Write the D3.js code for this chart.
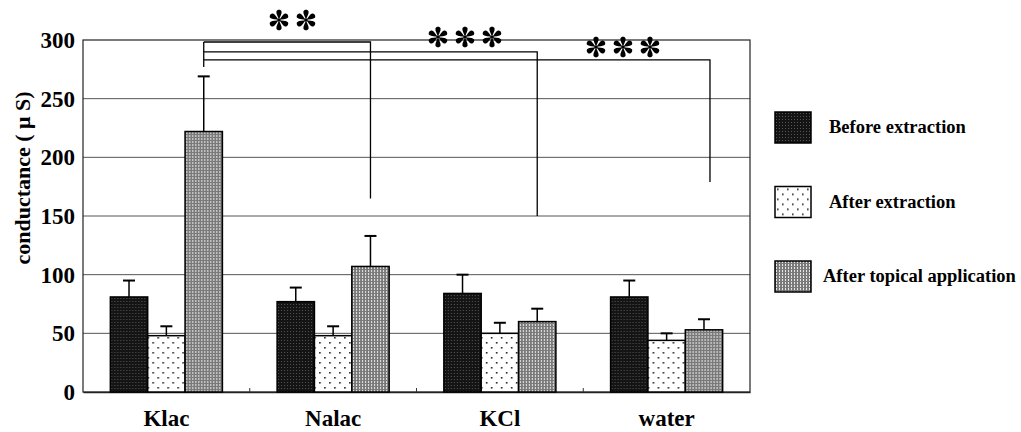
<!DOCTYPE html>
<html>
<head>
<meta charset="utf-8">
<script src="https://cdn.jsdelivr.net/npm/d3@7"></script>
<style>
  body { margin: 0; background: #fff; }
  svg { display: block; }
  text { font-family: "Liberation Serif", "Times New Roman", serif; font-weight: bold; fill: #000; }
</style>
</head>
<body>
<div id="chart"></div>
<script>
// data
var categories = ["Klac", "Nalac", "KCl", "water"];
var seriesNames = ["Before extraction", "After extraction", "After topical application"];
var beforeValues = [81, 77, 84, 81];
var beforeErrors = [14, 12, 16, 14];
var afterValues = [48, 48, 50, 44];
var afterErrors = [8, 8, 9, 6];
var topicalValues = [222, 107, 60, 53];
var topicalErrors = [47, 26, 11, 9];
var yTicks = [0, 50, 100, 150, 200, 250, 300];

// significance brackets: from Klac topical to the topical bar of another group
var bracketTargets = ["Nalac", "KCl", "water"];
var bracketLevels = [298.3, 289.8, 283];
var bracketEnds = [165, 150, 179];
var bracketStartEnd = 277;
var bracketStars = [2, 3, 3];

var width = 1021,
  height = 432,
  margin = { top: 40, right: 271, bottom: 40, left: 83 };

var svg = d3.select("#chart").append("svg")
  .attr("width", width)
  .attr("height", height);

//------------------------------------------------------------
// fill patterns

var defs = svg.append("defs");

var pDark = defs.append("pattern").attr("id", "pDark")
  .attr("patternUnits", "userSpaceOnUse").attr("width", 3).attr("height", 3);
pDark.append("rect").attr("width", 3).attr("height", 3).attr("fill", "#141414");
pDark.append("rect").attr("x", 1).attr("y", 1).attr("width", 1).attr("height", 1).attr("fill", "#555");

var pDots = defs.append("pattern").attr("id", "pDots")
  .attr("patternUnits", "userSpaceOnUse").attr("width", 10).attr("height", 10);
pDots.append("rect").attr("width", 10).attr("height", 10).attr("fill", "#fff");
pDots.append("rect").attr("x", 2).attr("y", 2).attr("width", 1.6).attr("height", 1.6).attr("fill", "#222");
pDots.append("rect").attr("x", 7).attr("y", 7).attr("width", 1.6).attr("height", 1.6).attr("fill", "#222");

var pGray = defs.append("pattern").attr("id", "pGray")
  .attr("patternUnits", "userSpaceOnUse").attr("width", 3).attr("height", 3);
pGray.append("rect").attr("width", 3).attr("height", 3).attr("fill", "#7a7a7a");
pGray.append("rect").attr("x", 1).attr("y", 0).attr("width", 1).attr("height", 2).attr("fill", "#e6e6e6");

var fills = ["url(#pDark)", "url(#pDots)", "url(#pGray)"];

// asterisk with six teardrop arms
var petal = "M0,0 C-0.7,-3 -3,-6 -2.6,-8.4 C-2.1,-10.8 2.1,-10.8 2.6,-8.4 C3,-6 0.7,-3 0,0 Z";
var star = defs.append("g").attr("id", "star");
d3.range(6).forEach(function(k) {
  star.append("path").attr("d", petal).attr("transform", "rotate(" + (k * 60) + ")").attr("fill", "#000");
});
star.append("circle").attr("r", 1.6).attr("fill", "#000");

//------------------------------------------------------------
// scales

var innerW = width - margin.left - margin.right,
  innerH = height - margin.top - margin.bottom;

var x0 = d3.scaleBand().domain(categories)
  .range([margin.left, margin.left + innerW])
  .paddingInner(0.328).paddingOuter(0.164);

var x1 = d3.scaleBand().domain(d3.range(seriesNames.length))
  .range([0, x0.bandwidth()]);

var y = d3.scaleLinear().domain([0, 300])
  .range([margin.top + innerH, margin.top]);

var series = [
  { values: beforeValues, errors: beforeErrors },
  { values: afterValues, errors: afterErrors },
  { values: topicalValues, errors: topicalErrors }
];

//------------------------------------------------------------
// grid + frame

svg.append("g").selectAll("line")
  .data(yTicks.filter(function(d) { return d > 0 && d < 300; }))
  .enter().append("line")
  .attr("x1", margin.left).attr("x2", margin.left + innerW)
  .attr("y1", function(d) { return y(d); })
  .attr("y2", function(d) { return y(d); })
  .attr("stroke", "#555").attr("stroke-width", 1);

svg.append("rect")
  .attr("x", margin.left).attr("y", margin.top)
  .attr("width", innerW).attr("height", innerH)
  .attr("fill", "none").attr("stroke", "#222").attr("stroke-width", 1.2);

// y axis
var yAxis = svg.append("g")
  .attr("transform", "translate(" + margin.left + ",0)")
  .call(d3.axisLeft(y).tickValues(yTicks).tickSize(0).tickPadding(8));
yAxis.select(".domain").remove();
yAxis.selectAll("text")
  .style("font-family", "Liberation Serif, serif")
  .style("font-weight", "bold")
  .style("font-size", "23px")
  .attr("fill", "#000");

svg.append("text")
  .attr("transform", "translate(30,178) rotate(-90)")
  .attr("text-anchor", "middle")
  .style("font-size", "22px")
  .text("conductance ( \u03bc S)");

// x axis
var xAxis = svg.append("g")
  .attr("transform", "translate(0," + (margin.top + innerH) + ")")
  .call(d3.axisBottom(x0).tickSize(0).tickPadding(18));
xAxis.select(".domain").attr("stroke", "#222").attr("stroke-width", 1.5);
xAxis.selectAll("text")
  .style("font-family", "Liberation Serif, serif")
  .style("font-weight", "bold")
  .style("font-size", "23px")
  .attr("fill", "#000");

// small ticks between groups
svg.append("g").selectAll("line")
  .data(categories.slice(1))
  .enter().append("line")
  .attr("x1", function(d) { return x0(d) - x0.step() * x0.paddingInner() / 2; })
  .attr("x2", function(d) { return x0(d) - x0.step() * x0.paddingInner() / 2; })
  .attr("y1", y(0)).attr("y2", y(0) - 4)
  .attr("stroke", "#333");

//------------------------------------------------------------
// bars

var groups = svg.append("g").selectAll("g")
  .data(categories)
  .enter().append("g")
  .attr("transform", function(d) { return "translate(" + x0(d) + ",0)"; });

series.forEach(function(s, si) {
  groups.append("line")
    .attr("x1", x1(si) + x1.bandwidth() / 2)
    .attr("x2", x1(si) + x1.bandwidth() / 2)
    .attr("y1", function(d, i) { return y(s.values[i]); })
    .attr("y2", function(d, i) { return y(s.values[i] + s.errors[i]); })
    .attr("stroke", "#000").attr("stroke-width", 1.5);
  groups.append("line")
    .attr("x1", x1(si) + x1.bandwidth() / 2 - 6)
    .attr("x2", x1(si) + x1.bandwidth() / 2 + 6)
    .attr("y1", function(d, i) { return y(s.values[i] + s.errors[i]); })
    .attr("y2", function(d, i) { return y(s.values[i] + s.errors[i]); })
    .attr("stroke", "#000").attr("stroke-width", 2);
  groups.append("rect")
    .attr("x", x1(si))
    .attr("width", x1.bandwidth())
    .attr("y", function(d, i) { return y(s.values[i]); })
    .attr("height", function(d, i) { return y(0) - y(s.values[i]); })
    .attr("fill", fills[si])
    .attr("stroke", "#000").attr("stroke-width", 1.5);
});

//------------------------------------------------------------
// significance brackets

var topicalX = function(cat) { return x0(cat) + x1(2) + x1.bandwidth() / 2; };
var bx0 = topicalX("Klac");

svg.append("line")
  .attr("x1", bx0).attr("x2", bx0)
  .attr("y1", y(bracketLevels[0])).attr("y2", y(bracketStartEnd))
  .attr("stroke", "#000").attr("stroke-width", 1.3);

bracketTargets.forEach(function(cat, i) {
  var bx1 = topicalX(cat) + (i === 2 ? 6 : 0);
  svg.append("path")
    .attr("d", "M" + bx0 + "," + y(bracketLevels[i]) + "H" + bx1 + "V" + y(bracketEnds[i]))
    .attr("fill", "none").attr("stroke", "#000").attr("stroke-width", 1.3);
});

// star groups: first star centre, drawn on top of lines
var starPos = [[279, 20], [438, 37], [596, 47]];
bracketStars.forEach(function(n, i) {
  d3.range(n).forEach(function(k) {
    svg.append("use")
      .attr("href", "#star")
      .attr("transform", "translate(" + (starPos[i][0] + k * 27) + "," + starPos[i][1] + ")");
  });
});

//------------------------------------------------------------
// legend

var legend = svg.append("g").attr("transform", "translate(775,112)");
var legendRows = legend.selectAll("g")
  .data(seriesNames)
  .enter().append("g")
  .attr("transform", function(d, i) { return "translate(0," + (i * 74.5) + ")"; });

legendRows.append("rect")
  .attr("width", 36).attr("height", 31)
  .attr("fill", function(d, i) { return fills[i]; })
  .attr("stroke", "#000").attr("stroke-width", 1.5);

legendRows.append("text")
  .attr("x", function(d, i) { return i === 2 ? 48 : 54; })
  .attr("y", 21)
  .style("font-size", "18.5px")
  .text(function(d) { return d; });
</script>
</body>
</html>
